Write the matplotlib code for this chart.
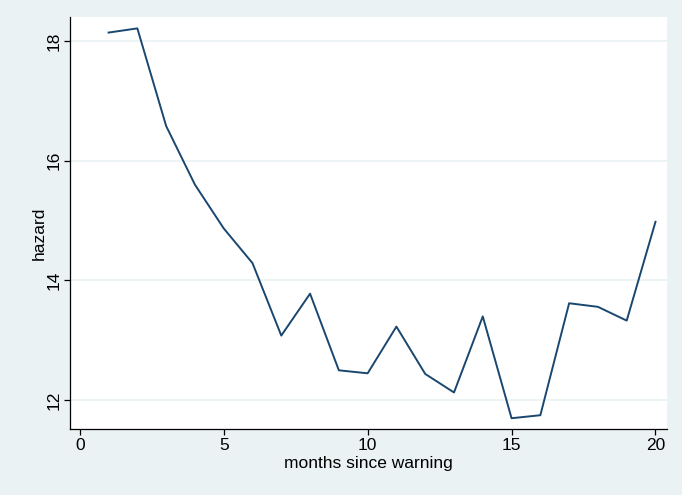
import matplotlib.pyplot as plt

# hazard by months since warning
months = list(range(1, 21))
hazard = [18.14, 18.21, 16.58, 15.60, 14.87, 14.29, 13.08, 13.78, 12.50, 12.45,
          13.23, 12.44, 12.13, 13.40, 11.70, 11.75, 13.62, 13.56, 13.33, 14.98]

x_ticks = [0, 5, 10, 15, 20]
y_ticks = [12, 14, 16, 18]

BG = "#eaf2f3"
LINE = "#1a476f"

plt.rcParams["font.family"] = ["Liberation Sans", "DejaVu Sans"]

fig = plt.figure(figsize=(6.82, 4.95), dpi=100, facecolor=BG)
ax = fig.add_axes([70 / 682, 1 - 429 / 495, (667 - 70) / 682, (429 - 17) / 495])
ax.set_facecolor("white")

ax.plot(months, hazard, color=LINE, lw=1.4)

ax.set_xlim(-0.34, 20.4)
ax.set_ylim(11.52, 18.40)
ax.set_xticks(x_ticks)
ax.set_yticks(y_ticks)
ax.grid(axis="y", color=BG, lw=1.2)
ax.set_axisbelow(True)

for s in ["top", "right"]:
    ax.spines[s].set_visible(False)
for s in ["left", "bottom"]:
    ax.spines[s].set_color("black")
    ax.spines[s].set_linewidth(0.9)

ax.tick_params(direction="out", length=4, width=0.9, labelsize=12.5, colors="black")
ax.tick_params(axis="x", pad=2.5)
ax.tick_params(axis="y", pad=2)
plt.setp(ax.get_yticklabels(), rotation=90, va="center")

ax.set_xlabel("months since warning", fontsize=12.5, labelpad=2)
ax.set_ylabel("hazard", fontsize=12.5)
ax.yaxis.set_label_coords(-0.039, 0.476)

fig.savefig("out.png", dpi=100, facecolor=BG)
